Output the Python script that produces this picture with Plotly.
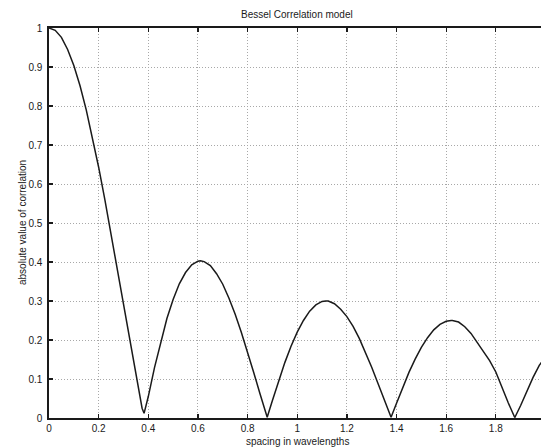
import plotly.graph_objects as go

# spacing in wavelengths (x) and absolute value of correlation (y)
spacing = [0.0, 0.025, 0.05, 0.075, 0.1, 0.125, 0.15, 0.175, 0.2, 0.225, 0.25, 0.275,
           0.3, 0.325, 0.35, 0.375, 0.383, 0.4, 0.425, 0.45, 0.475, 0.5, 0.525, 0.55,
           0.575, 0.6, 0.61, 0.625, 0.65, 0.675, 0.7, 0.725, 0.75, 0.775, 0.8, 0.825,
           0.85, 0.875, 0.879, 0.9, 0.925, 0.95, 0.975, 1.0, 1.025, 1.05, 1.075, 1.1,
           1.115, 1.125, 1.15, 1.175, 1.2, 1.225, 1.25, 1.275, 1.3, 1.325, 1.35, 1.375,
           1.378, 1.4, 1.425, 1.45, 1.475, 1.5, 1.525, 1.55, 1.575, 1.6, 1.62, 1.625,
           1.65, 1.675, 1.7, 1.725, 1.75, 1.775, 1.8, 1.825, 1.85, 1.875, 1.877, 1.9,
           1.925, 1.95, 1.975, 2.0]
correlation = [1.0, 0.994, 0.976, 0.945, 0.904, 0.852, 0.790, 0.720, 0.643, 0.560,
               0.472, 0.382, 0.291, 0.200, 0.111, 0.025, 0.012, 0.055, 0.129, 0.196,
               0.255, 0.304, 0.344, 0.373, 0.393, 0.402, 0.403, 0.401, 0.391, 0.370,
               0.343, 0.307, 0.266, 0.219, 0.169, 0.116, 0.062, 0.008, 0.002, 0.045,
               0.096, 0.142, 0.184, 0.220, 0.250, 0.274, 0.290, 0.299, 0.300, 0.300,
               0.293, 0.279, 0.260, 0.235, 0.204, 0.169, 0.130, 0.089, 0.047, 0.004,
               0.002, 0.038, 0.079, 0.117, 0.151, 0.181, 0.206, 0.226, 0.240, 0.248,
               0.250, 0.250, 0.246, 0.234, 0.217, 0.194, 0.172, 0.147, 0.118, 0.076,
               0.039, 0.003, 0.002, 0.032, 0.070, 0.104, 0.135, 0.156]

x_ticks = [0, 0.2, 0.4, 0.6, 0.8, 1.0, 1.2, 1.4, 1.6, 1.8]
x_tick_labels = ["0", "0.2", "0.4", "0.6", "0.8", "1", "1.2", "1.4", "1.6", "1.8"]
y_ticks = [0, 0.1, 0.2, 0.3, 0.4, 0.5, 0.6, 0.7, 0.8, 0.9, 1.0]
y_tick_labels = ["0", "0.1", "0.2", "0.3", "0.4", "0.5", "0.6", "0.7", "0.8", "0.9", "1"]

title_text = "Bessel Correlation model"
x_title = "spacing in wavelengths"
y_title = "absolute value of correlation"

font_family = "Liberation Sans, Arial, sans-serif"
ink = "#1a1a1a"

W, H = 541, 447
L, R, T, B = 49, 0, 28, 29
pw, ph = W - L - R, H - T - B


def px_x(px):
    return (px - L) / pw


def px_y(py):
    return (H - B - py) / ph


fig = go.Figure()
fig.add_trace(go.Scatter(x=spacing, y=correlation, mode="lines",
                         line=dict(color=ink, width=1.5), showlegend=False,
                         hoverinfo="skip"))

fig.update_layout(
    width=W, height=H,
    margin=dict(l=L, r=R, t=T, b=B, autoexpand=False),
    paper_bgcolor="white", plot_bgcolor="white",
    font=dict(family=font_family, size=10, color=ink),
)

axis_common = dict(
    showline=True, linecolor=ink, linewidth=1.6,
    ticks="inside", ticklen=4, tickwidth=1.3, tickcolor=ink,
    showgrid=True, gridcolor="#a8a8a8", griddash="1px,2px", gridwidth=1,
    zeroline=False, automargin=False, tickfont=dict(size=10, color=ink),
)
fig.update_xaxes(range=[0, 1.982], tickvals=x_ticks, ticktext=x_tick_labels,
                 mirror="ticks", **axis_common)
fig.update_yaxes(range=[0, 1], tickvals=y_ticks, ticktext=y_tick_labels,
                 mirror=False, ticklabelstandoff=3, **axis_common)

fig.add_annotation(text=title_text, xref="paper", yref="paper",
                   x=px_x(297), y=px_y(15), showarrow=False,
                   xanchor="center", yanchor="middle", font=dict(size=10, color=ink))
fig.add_annotation(text=x_title, xref="paper", yref="paper",
                   x=px_x(297), y=px_y(441), showarrow=False,
                   xanchor="center", yanchor="middle", font=dict(size=10, color=ink))
fig.add_annotation(text=y_title, xref="paper", yref="paper",
                   x=px_x(22), y=0.5, textangle=-90, showarrow=False,
                   xanchor="center", yanchor="middle", font=dict(size=10, color=ink))

fig.write_html("out.html",
               config={"displayModeBar": False, "staticPlot": True},
               post_script="document.body.style.margin='0';document.body.style.overflow='hidden';")
